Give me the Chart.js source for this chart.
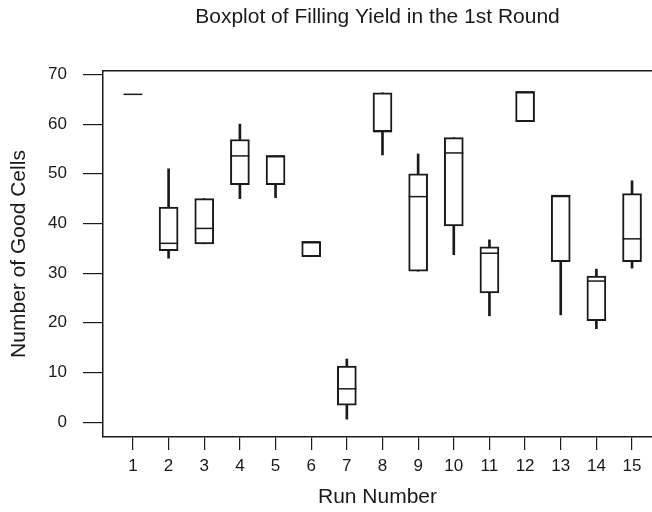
<!DOCTYPE html>
<html>
<head>
<meta charset="utf-8">
<script src="https://cdn.jsdelivr.net/npm/chart.js@4"></script>
<style>
  body { margin: 0; background: #fff; }
</style>
</head>
<body>
<canvas id="boxplot" width="652" height="512"></canvas>
<script>
// run numbers and five-number summaries
const runs = [1, 2, 3, 4, 5, 6, 7, 8, 9, 10, 11, 12, 13, 14, 15];
const lowWhisker = [66, 33, 35.9, 45, 45.2, 33.3, 0.6, 53.8, 30.4, 33.7, 21.4, 60.5, 21.6, 18.8, 31];
const q1 = [66, 34.5, 35.9, 47.8, 47.8, 33.3, 3.4, 58.5, 30.4, 39.5, 26, 60.5, 32.3, 20.4, 32.3];
const median = [66, 36, 39, 53.6, 53.6, 36.3, 6.7, 58.5, 45.4, 54.2, 34, 66.5, 45.6, 28.4, 36.9];
const q3 = [66, 43.3, 45, 56.9, 53.6, 36.3, 11.3, 66.3, 50, 57.3, 35.3, 66.5, 45.6, 29.4, 46];
const highWhisker = [66, 51, 45, 60, 53.6, 36.3, 12.7, 66.3, 54, 57.3, 36.7, 66.5, 45.6, 30.8, 48.6];
const yTicks = [0, 10, 20, 30, 40, 50, 60, 70];

const ink = '#1a1a1a';
const font = "'Liberation Sans', Arial, sans-serif";

const ctx = document.getElementById('boxplot');

const chart = new Chart(ctx, {
    type: 'bar',
    data: {
        datasets: [
            {
                label: 'lower whisker',
                xAxisID: 'x',
                data: runs.map((r, i) => ({x: r, y: [lowWhisker[i], q1[i]]})),
                backgroundColor: ink,
                borderWidth: 0,
                barThickness: 2,
                grouped: false,
                order: 3
            }, {
                label: 'upper whisker',
                xAxisID: 'x',
                data: runs.map((r, i) => ({x: r, y: [q3[i], highWhisker[i]]})),
                backgroundColor: ink,
                borderWidth: 0,
                barThickness: 2,
                grouped: false,
                order: 3
            }, {
                label: 'box',
                xAxisID: 'x',
                data: runs.map((r, i) => ({x: r, y: [q1[i], q3[i]]})),
                backgroundColor: '#fff',
                borderColor: ink,
                borderWidth: 2,
                borderSkipped: false,
                barThickness: 19,
                grouped: false,
                order: 2
            }, {
                type: 'line',
                label: 'median',
                xAxisID: 'x',
                data: runs.map((r, i) => ({x: r, y: median[i]})),
                showLine: false,
                pointStyle: 'line',
                pointRadius: 9.5,
                pointHoverRadius: 9.5,
                borderColor: ink,
                borderWidth: 1.5,
                order: 1
            }
        ]
    },
    options: {
        responsive: false,
        animation: false,
        layout: { padding: 0, autoPadding: false },
        plugins: {
            legend: { display: false },
            tooltip: { enabled: false }
        },
        scales: {
            x: {
                type: 'linear',
                offset: false,
                min: 0.16,
                max: 15.56,
                afterBuildTicks: (s) => { s.ticks = runs.map(v => ({value: v})); },
                afterFit: (s) => { s.height = 75; s.paddingRight = 0; s.paddingLeft = 0; },
                border: { display: true, color: ink, width: 1.5 },
                grid: { offset: false, drawOnChartArea: false, color: ink, tickLength: 13, lineWidth: 1.2 },
                ticks: { color: ink, padding: 6, maxRotation: 0, font: { family: font, size: 17 } },
                title: {
                    display: true,
                    text: 'Run Number',
                    color: ink,
                    padding: { top: 2, bottom: 2 },
                    font: { family: font, size: 21 }
                }
            },
            // top axis only carries the frame line and the title, centred over the plot
            top: {
                type: 'linear',
                position: 'top',
                min: 0,
                max: 1,
                afterFit: (s) => { s.height = 71; s.paddingRight = 0; s.paddingLeft = 0; },
                border: { display: true, color: ink, width: 1.5 },
                grid: { display: false },
                ticks: { display: false },
                title: {
                    display: true,
                    text: 'Boxplot of Filling Yield in the 1st Round',
                    color: ink,
                    padding: { top: 5, bottom: 0 },
                    font: { family: font, size: 21 }
                }
            },
            y: {
                type: 'linear',
                min: -3,
                max: 70.7,
                afterBuildTicks: (s) => { s.ticks = yTicks.map(v => ({value: v})); },
                afterFit: (s) => { s.width = 103; },
                border: { display: true, color: ink, width: 1.5 },
                grid: { drawOnChartArea: false, color: ink, tickLength: 20, lineWidth: 1.2 },
                ticks: { color: ink, padding: 16, font: { family: font, size: 17 } },
                title: {
                    display: true,
                    text: 'Number of Good Cells',
                    color: ink,
                    padding: { top: 7, bottom: 0 },
                    font: { family: font, size: 21 }
                }
            }
        }
    }
});
</script>
</body>
</html>
